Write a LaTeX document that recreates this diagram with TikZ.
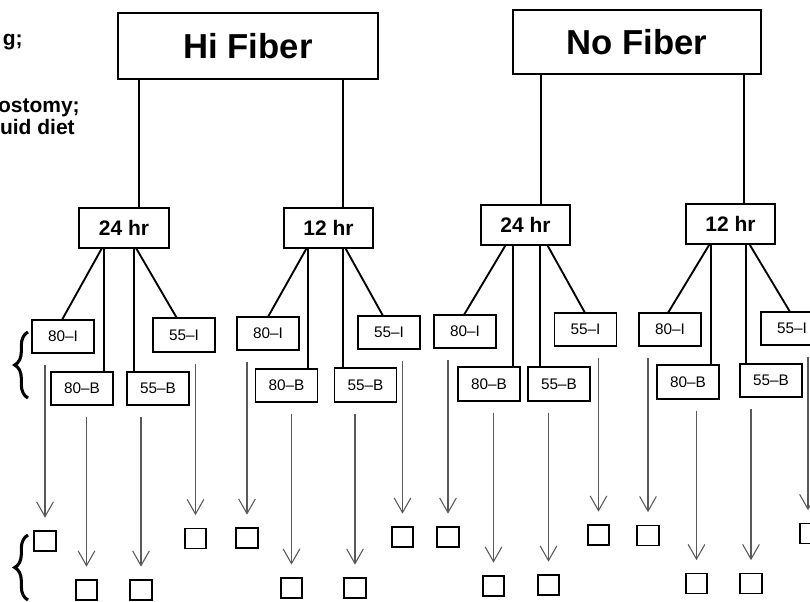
\documentclass[tikz,border=0pt]{standalone}
\usepackage{fontspec}
\setmainfont{Liberation Sans}
\usetikzlibrary{arrows.meta,decorations.pathreplacing}
\begin{document}
\begin{tikzpicture}[x=0.75pt,y=-0.75pt,
 big/.style={draw, line width=1.6pt, inner sep=0pt, outer sep=0pt, font=\bfseries\fontsize{26}{30}\selectfont},
 mid/.style={draw, line width=1.5pt, inner sep=0pt, outer sep=0pt, minimum width=67pt, minimum height=30pt, font=\bfseries\fontsize{15.75}{18}\selectfont},
 lab/.style={draw, line width=1.4pt, inner sep=0pt, outer sep=0pt, minimum width=46.5pt, minimum height=25pt, font=\fontsize{11.5}{13}\selectfont},
 sq/.style={draw, line width=1.4pt, inner sep=0pt, outer sep=0pt, minimum width=16pt, minimum height=15pt},
 link/.style={line width=1.4pt},
 arr/.style={draw=black!65, line width=0.8pt, -{Straight Barb[length=11pt,width=12.5pt]}, shorten <=9pt, shorten >=10pt},
 brc/.style={line width=2.3pt, decorate, decoration={brace, amplitude=10pt}},
 lefttxt/.style={inner sep=0pt, anchor=base east, font=\bfseries\fontsize{15.75}{18}\selectfont}
]
\clip (0,0) rectangle (810,601);
\fill[white] (0,0) rectangle (810,601);

% left text fragments
\node[lefttxt] (t1) at (23,45) {g;};
\node[lefttxt] (t2) at (80,112) {ostomy;};
\node[lefttxt] (t3) at (75,134) {uid diet};

% braces
\coordinate (br1a) at (28,398); \coordinate (br1b) at (28,332);
\coordinate (br2a) at (28,600); \coordinate (br2b) at (28,535);
\draw[brc] (br1a) -- (br1b);
\draw[brc] (br2a) -- (br2b);

% top boxes
\node[big, minimum width=195pt, minimum height=49.5pt] (hf) at (248,46) {Hi Fiber};
\node[big, minimum width=186pt, minimum height=48pt] (nf) at (637,42) {No Fiber};

% middle boxes
\node[mid] (h24) at (124,228) {24 hr};
\node[mid] (h12) at (328.5,227.5) {12 hr};
\node[mid] (n24) at (525.5,224.5) {24 hr};
\node[mid] (n12) at (730.5,223.5) {12 hr};

\draw[link] (hf.south -| 139,0) -- (h24.north -| 139,0);
\draw[link] (hf.south -| 343,0) -- (h12.north -| 343,0);
\draw[link] (nf.south -| 541,0) -- (n24.north -| 541,0);
\draw[link] (nf.south -| 744,0) -- (n12.north -| 744,0);

% label boxes
\node[lab] (a1) at (63,336.5) {80–I};
\node[lab] (a2) at (82,388.5) {80–B};
\node[lab] (a3) at (158,388.5) {55–B};
\node[lab] (a4) at (184,335) {55–I};

\node[lab] (b1) at (268,333.5) {80–I};
\node[lab] (b2) at (286.5,385.5) {80–B};
\node[lab] (b3) at (365.5,385) {55–B};
\node[lab] (b4) at (389,332.5) {55–I};

\node[lab] (c1) at (465,331.5) {80–I};
\node[lab] (c2) at (489,384) {80–B};
\node[lab] (c3) at (559,384) {55–B};
\node[lab] (c4) at (585.5,329.5) {55–I};

\node[lab] (d1) at (670,329.5) {80–I};
\node[lab] (d2) at (688,382) {80–B};
\node[lab] (d3) at (771,380.5) {55–B};
\node[lab] (d4) at (792,328.5) {55–I};

% tree links
\draw[link] (h24.south -| 102,0) -- (a1.north -| 62,0);
\draw[link] (h24.south -| 104,0) -- (a2.north -| 104,0);
\draw[link] (h24.south -| 134,0) -- (a3.north -| 134,0);
\draw[link] (h24.south -| 136,0) -- (a4.north -| 177,0);

\draw[link] (h12.south -| 307,0) -- (b1.north -| 268,0);
\draw[link] (h12.south -| 308,0) -- (b2.north -| 308,0);
\draw[link] (h12.south -| 343,0) -- (b3.north -| 343,0);
\draw[link] (h12.south -| 345,0) -- (b4.north -| 383,0);

\draw[link] (n24.south -| 506,0) -- (c1.north -| 464,0);
\draw[link] (n24.south -| 513,0) -- (c2.north -| 513,0);
\draw[link] (n24.south -| 540,0) -- (c3.north -| 540,0);
\draw[link] (n24.south -| 547,0) -- (c4.north -| 585,0);

\draw[link] (n12.south -| 710,0) -- (d1.north -| 668,0);
\draw[link] (n12.south -| 711,0) -- (d2.north -| 711,0);
\draw[link] (n12.south -| 746,0) -- (d3.north -| 746,0);
\draw[link] (n12.south -| 749,0) -- (d4.north -| 790,0);

% squares
\node[sq] (sa1) at (45,541) {};
\node[sq] (sa2) at (86.5,590) {};
\node[sq] (sa3) at (141,590) {};
\node[sq] (sa4) at (195.5,538.5) {};

\node[sq] (sb1) at (247,538) {};
\node[sq] (sb2) at (291.5,588) {};
\node[sq] (sb3) at (355,588) {};
\node[sq] (sb4) at (402.5,537) {};

\node[sq] (sc1) at (448,537) {};
\node[sq] (sc2) at (493.5,586) {};
\node[sq] (sc3) at (548.5,585) {};
\node[sq] (sc4) at (598.5,535) {};

\node[sq] (sd1) at (648,535.5) {};
\node[sq] (sd2) at (696.5,583.5) {};
\node[sq] (sd3) at (751,583.5) {};
\node[sq] (sd4) at (810.5,533.5) {};

% arrows
\draw[arr] (a1.south -| sa1.north) -- (sa1.north);
\draw[arr] (a2.south -| sa2.north) -- (sa2.north);
\draw[arr] (a3.south -| sa3.north) -- (sa3.north);
\draw[arr] (a4.south -| sa4.north) -- (sa4.north);

\draw[arr] (b1.south -| sb1.north) -- (sb1.north);
\draw[arr] (b2.south -| sb2.north) -- (sb2.north);
\draw[arr] (b3.south -| sb3.north) -- (sb3.north);
\draw[arr] (b4.south -| sb4.north) -- (sb4.north);

\draw[arr] (c1.south -| sc1.north) -- (sc1.north);
\draw[arr] (c2.south -| sc2.north) -- (sc2.north);
\draw[arr] (c3.south -| sc3.north) -- (sc3.north);
\draw[arr] (c4.south -| sc4.north) -- (sc4.north);

\draw[arr] (d1.south -| sd1.north) -- (sd1.north);
\draw[arr] (d2.south -| sd2.north) -- (sd2.north);
\draw[arr] (d3.south -| sd3.north) -- (sd3.north);
\draw[arr] (d4.south -| 808,0) -- (sd4.north -| 808,0);
\end{tikzpicture}
\end{document}
